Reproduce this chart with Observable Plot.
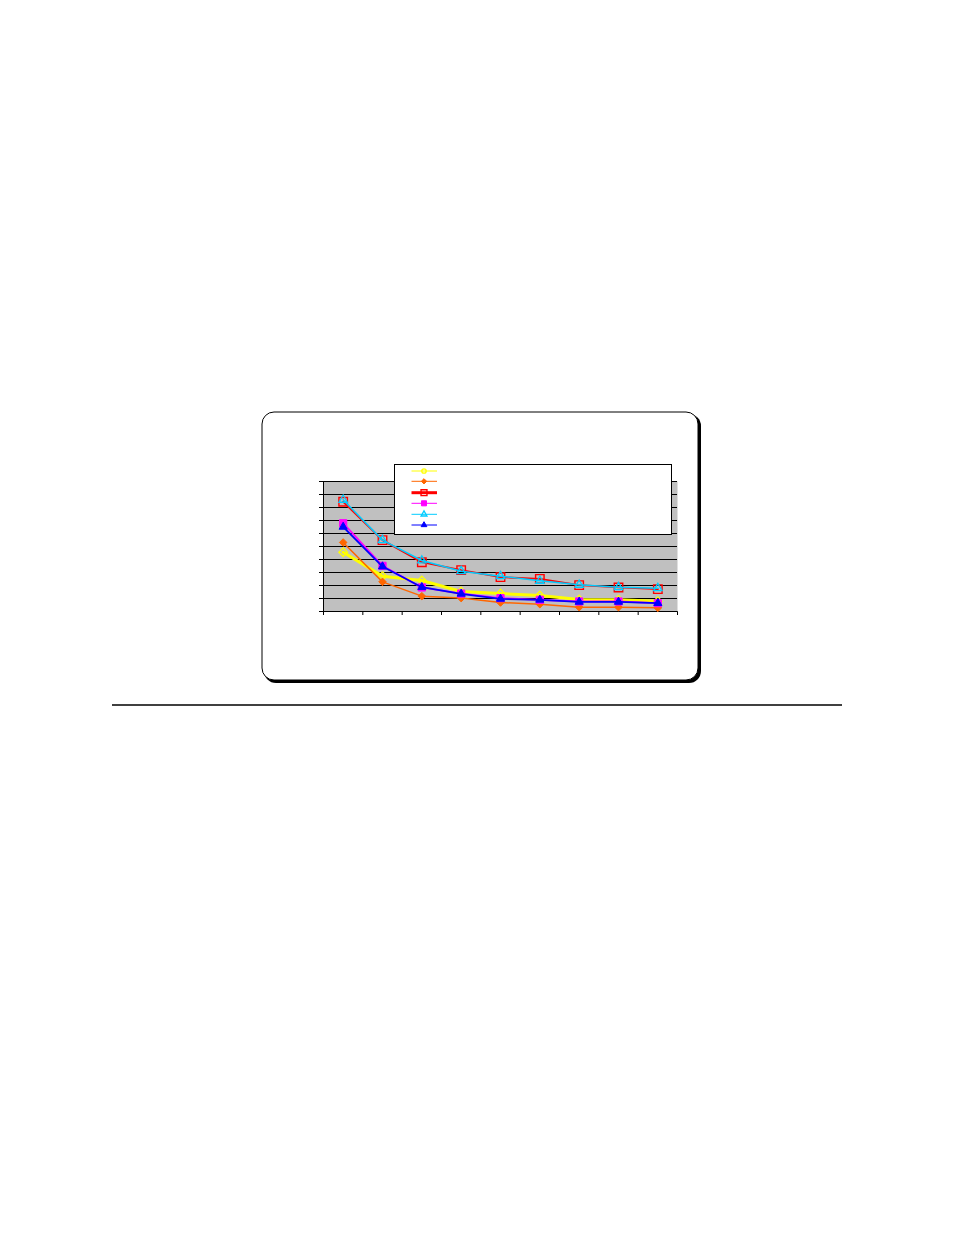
<!DOCTYPE html>
<html><head><meta charset="utf-8">
<script src="https://cdn.jsdelivr.net/npm/d3@7"></script>
<script src="https://cdn.jsdelivr.net/npm/@observablehq/plot@0.6"></script>
<style>body{margin:0;background:#fff}#chart{position:relative;width:954px;height:1235px}</style>
</head><body><div id="chart"></div>
<script>
const categories = [1, 2, 3, 4, 5, 6, 7, 8, 9];
const seriesNames = ["S1", "S2", "S3", "S4", "S5", "S6"];
const s1 = [4.56, 2.72, 2.38, 1.54, 1.38, 1.23, 0.92, 0.90, 0.79];
const s2 = [5.31, 2.28, 1.18, 1.03, 0.69, 0.56, 0.33, 0.33, 0.28];
const s3 = [8.44, 5.49, 3.79, 3.18, 2.64, 2.51, 2.03, 1.85, 1.72];
const s4 = [6.79, 3.51, 1.85, 1.38, 1.03, 0.90, 0.77, 0.77, 0.64];
const s5 = [8.59, 5.49, 3.92, 3.10, 2.72, 2.36, 2.05, 1.87, 1.79];
const s6 = [6.51, 3.46, 1.87, 1.36, 0.97, 0.90, 0.74, 0.74, 0.64];
const yTicks = [0, 1, 2, 3, 4, 5, 6, 7, 8, 9, 10];
const xTicks = [0, 1, 2, 3, 4, 5, 6, 7, 8, 9];

const styles = [
  {vals: s1, color: "#ffff00", width: 3, symbol: "diamond2", legendSymbol: "circle", fill: "none", r: 3.9, sw: 1.3},
  {vals: s2, color: "#ff6600", width: 1.5, symbol: "diamond2", legendSymbol: "diamond2", fill: "#ff6600", r: 3.4, sw: 1},
  {vals: s3, color: "#ff0000", width: 1.8, symbol: "square2", legendSymbol: "square2", fill: "none", r: 5.4, sw: 1.4},
  {vals: s4, color: "#ff00ff", width: 1.8, symbol: "square2", legendSymbol: "square2", fill: "#ff00ff", r: 4.6, sw: 1},
  {vals: s5, color: "#00ccff", width: 1.5, symbol: "triangle2", legendSymbol: "triangle2", fill: "none", r: 4, sw: 1.3},
  {vals: s6, color: "#0000ff", width: 1.8, symbol: "triangle2", legendSymbol: "triangle2", fill: "#0000ff", r: 3.9, sw: 1}
];

const marks = [
  Plot.frame({fill: "#c0c0c0", stroke: "none"}),
  Plot.ruleY(yTicks.slice(1), {stroke: "#000", strokeWidth: 1}),
  Plot.ruleY([0], {stroke: "#000"}),
  Plot.ruleX([0], {stroke: "#000"})
];
styles.forEach((s, k) => {
  const data = categories.map((c, i) => ({x: i + 0.5, y: s.vals[i], series: seriesNames[k]}));
  marks.push(Plot.line(data, {x: "x", y: "y", stroke: s.color, strokeWidth: s.width}));
  marks.push(Plot.dot(data, {x: "x", y: "y", symbol: () => s.symbol, r: s.r, fill: s.fill, stroke: s.color, strokeWidth: s.sw}));
});

const svg = Plot.plot({
  width: 954, height: 1235,
  marginLeft: 323, marginRight: 277, marginTop: 481, marginBottom: 624,
  style: {background: "transparent", overflow: "visible"},
  x: {domain: [0, 9], ticks: xTicks, tickSize: 4, tickFormat: () => "", label: null},
  y: {domain: [0, 10], ticks: yTicks, tickSize: 4, tickFormat: () => "", label: null},
  symbol: {type: "identity"},
  marks
});
document.getElementById("chart").appendChild(svg);

const sel = d3.select(svg);
// outer rounded frame with shadow, behind everything
const bg = sel.insert("g", ":first-child");
bg.append("rect").attr("x", 264).attr("y", 414).attr("width", 437).attr("height", 269).attr("rx", 12).attr("fill", "#000");
bg.append("rect").attr("x", 262).attr("y", 412).attr("width", 436).attr("height", 268).attr("rx", 12).attr("fill", "#fff").attr("stroke", "#000").attr("stroke-width", 1);
// horizontal rule below chart
sel.append("line").attr("x1", 112).attr("x2", 842).attr("y1", 705).attr("y2", 705).attr("stroke", "#000").attr("stroke-width", 1.5);
// legend box
const lg = sel.append("g");
lg.append("rect").attr("x", 394.5).attr("y", 464.5).attr("width", 277).attr("height", 70).attr("fill", "#fff").attr("stroke", "#000");
const rowY = [471, 481.3, 492.7, 503.3, 514.3, 525];
const legendW = [1, 1, 3, 1, 1, 1];
const symMap = {circle: d3.symbolCircle, diamond2: d3.symbolDiamond2, square2: d3.symbolSquare2, triangle2: d3.symbolTriangle2};
styles.forEach((s, k) => {
  lg.append("line").attr("x1", 411.5).attr("x2", 437).attr("y1", rowY[k]).attr("y2", rowY[k]).attr("stroke", s.color).attr("stroke-width", legendW[k]);
  const rr = s.legendSymbol === "circle" ? 2.2 : s.r * 0.7;
  lg.append("path").attr("d", d3.symbol(symMap[s.legendSymbol], Math.PI * rr * rr)()).attr("transform", `translate(424,${rowY[k]})`)
    .attr("fill", s.legendSymbol === "circle" ? "none" : s.fill).attr("stroke", s.color).attr("stroke-width", s.sw);
});
</script></body></html>
